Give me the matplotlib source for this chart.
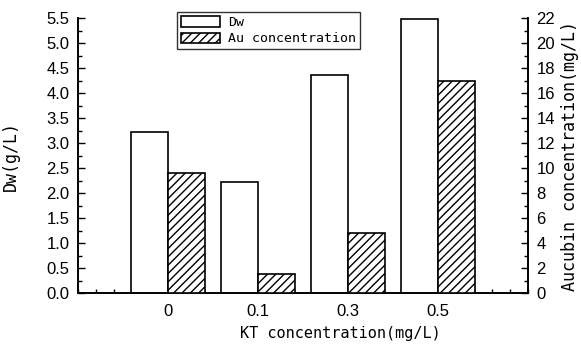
import matplotlib
matplotlib.use("Agg")
import matplotlib.pyplot as plt
import numpy as np
from matplotlib.ticker import MultipleLocator, FormatStrFormatter

categories = ["0", "0.1", "0.3", "0.5"]
dw_values = [3.22, 2.22, 4.36, 5.48]
au_values = [9.6, 1.5, 4.8, 17.0]

fig = plt.figure(figsize=(5.81, 3.49), dpi=100)
ax = fig.add_axes([0.134, 0.160, 0.775, 0.788])
ax2 = ax.twinx()

x = np.arange(1, len(categories) + 1)
w = 0.41
b1 = ax.bar(x - w / 2, dw_values, width=w, facecolor="white", edgecolor="black",
            linewidth=1.2, label="Dw", zorder=3)
b2 = ax2.bar(x + w / 2, au_values, width=w, facecolor="white", edgecolor="black",
             linewidth=1.2, hatch="////", label="Au concentration", zorder=3)

ax.set_xlim(0, 5)
ax.set_ylim(0, 5.5)
ax2.set_ylim(0, 22)

ax.set_xticks(x)
ax.set_xticklabels(categories)
ax.xaxis.set_minor_locator(MultipleLocator(0.2))
ax.yaxis.set_major_locator(MultipleLocator(0.5))
ax.yaxis.set_minor_locator(MultipleLocator(0.25))
ax.yaxis.set_major_formatter(FormatStrFormatter("%.1f"))
ax2.yaxis.set_major_locator(MultipleLocator(2))
ax2.yaxis.set_minor_locator(MultipleLocator(1))

tickfont = "Liberation Sans"
for a in (ax, ax2):
    a.tick_params(which="major", direction="in", length=5, width=1, labelsize=12, pad=6)
    a.tick_params(which="minor", direction="in", length=3, width=1)
    for lab in a.get_xticklabels() + a.get_yticklabels():
        lab.set_family(tickfont)
    for s in a.spines.values():
        s.set_linewidth(1.2)
ax.tick_params(axis="y", which="both", left=True, right=False)
ax2.tick_params(axis="y", which="both", left=False, right=True)
ax.tick_params(axis="x", which="major", length=0, pad=8)
ax.tick_params(axis="x", which="minor", length=3, top=False)
ax.spines["top"].set_visible(False)
ax2.spines["top"].set_visible(False)

mono = "DejaVu Sans Mono"
ax.set_xlabel("KT concentration(mg/L)", family=mono, fontsize=11)
ax.xaxis.set_label_coords(0.584, -0.12)
ax.set_ylabel("Dw(g/L)", family=mono, fontsize=12)
ax.yaxis.set_label_coords(-0.128, 0.5)
ax2.set_ylabel("Aucubin concentration(mg/L)", family=mono, fontsize=12)
ax2.yaxis.set_label_coords(1.073, 0.5)

leg = ax.legend([b1, b2], ["Dw", "Au concentration"], loc="upper left",
                bbox_to_anchor=(0.22, 1.022), prop={"family": mono, "size": 9.5},
                frameon=True, fancybox=False, edgecolor="black",
                handlelength=3.0, handleheight=0.8, borderpad=0.3,
                labelspacing=0.25, handletextpad=0.6, borderaxespad=0)
leg.get_frame().set_linewidth(1.0)

fig.savefig("out.png", dpi=100)
